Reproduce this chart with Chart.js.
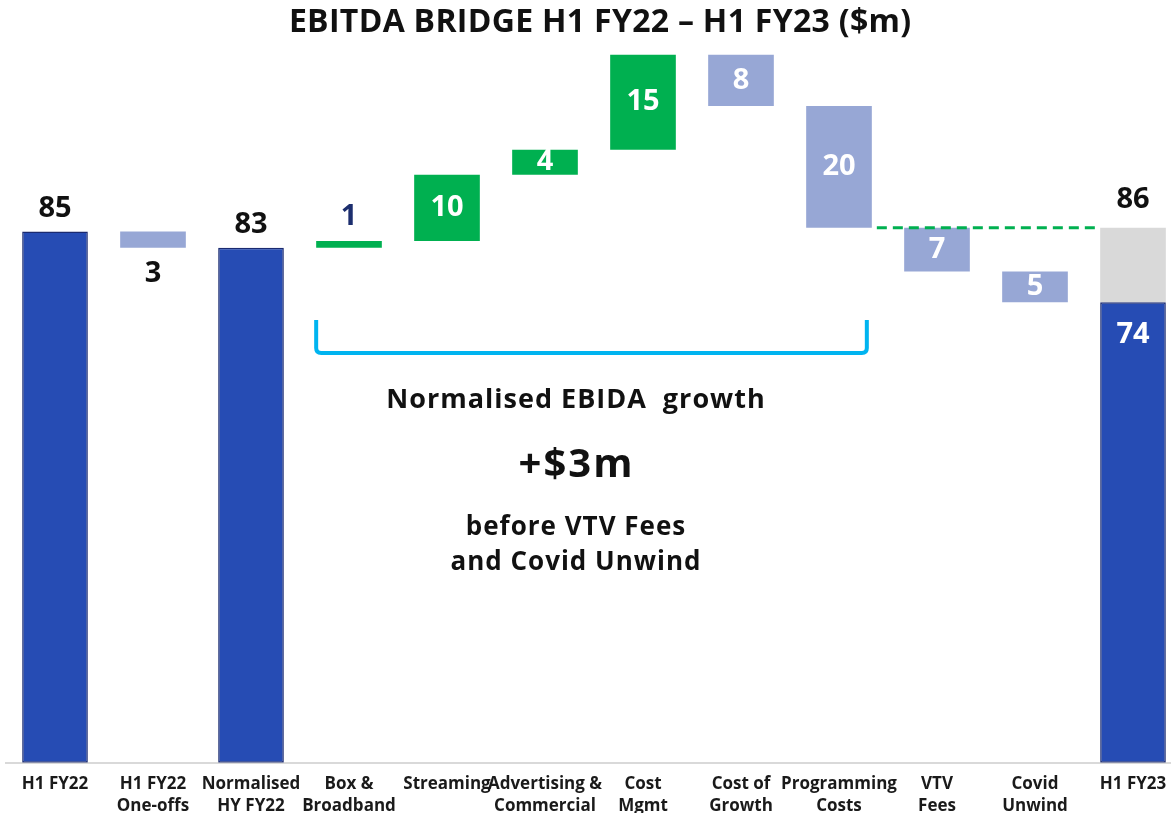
<!DOCTYPE html>
<html><head><meta charset="utf-8">
<script src="https://cdn.jsdelivr.net/npm/chart.js@4/dist/chart.umd.min.js"></script>
<style>
html,body{margin:0;padding:0;background:#fff;overflow:hidden;width:1171px;height:813px}
#wrap{position:absolute;left:0;top:0;width:1182px;height:829px}
</style></head><body>
<div id="wrap"><canvas id="c"></canvas></div>
<script>
const categories = [["H1 FY22"],["H1 FY22","One-offs"],["Normalised","HY FY22"],["Box &","Broadband"],["Streaming"],["Advertising &","Commercial"],["Cost","Mgmt"],["Cost of","Growth"],["Programming","Costs"],["VTV","Fees"],["Covid","Unwind"],["H1 FY23"]];
// 'total' entries are running totals; others are changes
const kinds   = ["total","neg","total","pos","pos","pos","pos","neg","neg","neg","neg","total"];
const changes = [85.0, -2.6, 0, 1.1, 10.6, 4.0, 15.2, -8.2, -19.5, -7.0, -4.9, 0];
const valueLabels = ["85","3","83","1","10","4","15","8","20","7","5","74"];
const normalisedTotalLabel = "86";
const titleText = "EBITDA BRIDGE H1 FY22 – H1 FY23 ($m)";

// build floating ranges
let run = 0; const ranges = [];
for (let i=0;i<changes.length;i++){
  if (kinds[i]==="total"){ if(i===0) run = changes[i]; ranges.push([0, run]); }
  else { const s=run; run += changes[i]; ranges.push([Math.min(s,run), Math.max(s,run)]); }
}
const normTop = ranges[8][0]; // level before VTV & Covid
const greyData = categories.map((c,i)=> i===categories.length-1 ? [run, normTop] : null);

const colors = kinds.map(k => k==="total" ? "#264cb4" : k==="pos" ? "#00b050" : "#97a7d5");
const borders = kinds.map(k => k==="total" ? "#1a2a70" : "rgba(0,0,0,0)");
const FONT = "'Open Sans', Lato, sans-serif";

function txt(ctx, s, x, y, font, ls){
  ctx.font = font; ctx.letterSpacing = (ls||0)+'px';
  // compensate trailing letter spacing for centring
  ctx.fillText(s, x + (ls||0)/2, y);
  ctx.letterSpacing = '0px';
}

const overlay = {
  id:'overlay',
  afterDatasetsDraw(chart){
    const ctx = chart.ctx, y = chart.scales.y;
    const meta = chart.getDatasetMeta(1);
    ctx.save();
    ctx.textAlign='center'; ctx.textBaseline='middle';
    ctx.fillStyle='#111';
    txt(ctx, titleText, 600, 23, "bold 32px "+FONT, 0.3);
    meta.data.forEach((bar,i)=>{
      const r = ranges[i];
      const top = y.getPixelForValue(r[1]), bot = y.getPixelForValue(r[0]);
      let ty, col = '#111';
      if (kinds[i]==="total"){
        if (i===categories.length-1){ ty = top+33; col='#fff'; }
        else ty = top-23;
      } else if (i===1){ ty = bot+26; }
      else if (i===3){ ty = top-24; col='#1c2e6e'; }
      else { ty = (top+bot)/2; col='#fff'; }
      ctx.fillStyle = col; txt(ctx, valueLabels[i], bar.x, ty, "bold 29px "+FONT, 0);
    });
    const last = categories.length-1;
    const gx = meta.data[last].x;
    ctx.fillStyle='#111';
    txt(ctx, normalisedTotalLabel, gx, y.getPixelForValue(normTop)-28, "bold 29px "+FONT, 0);
    // green dashed line
    const half = meta.data[8].width/2;
    ctx.strokeStyle='#00b050'; ctx.lineWidth=3; ctx.setLineDash([10,6]);
    ctx.beginPath();
    const ly = y.getPixelForValue(normTop);
    ctx.moveTo(meta.data[8].x+half+5, ly); ctx.lineTo(meta.data[last].x-half, ly); ctx.stroke();
    ctx.setLineDash([]);
    // bracket
    const bx1 = meta.data[3].x - half, bx2 = meta.data[8].x + half - 5;
    ctx.strokeStyle='#00b4f0'; ctx.lineWidth=4;
    ctx.beginPath();
    const yt=320, yb=353, rr=5;
    ctx.moveTo(bx1, yt); ctx.lineTo(bx1, yb-rr); ctx.quadraticCurveTo(bx1, yb, bx1+rr, yb);
    ctx.lineTo(bx2-rr, yb); ctx.quadraticCurveTo(bx2, yb, bx2, yb-rr); ctx.lineTo(bx2, yt);
    ctx.stroke();
    // annotation text
    const cx = (bx1+bx2)/2 - 16;
    ctx.fillStyle='#111';
    txt(ctx, "Normalised EBIDA  growth", cx, 400, "bold 27px "+FONT, 1);
    txt(ctx, "+$3m", cx, 466, "bold 40px "+FONT, 2);
    txt(ctx, "before VTV Fees", cx, 528, "bold 26px "+FONT, 1);
    txt(ctx, "and Covid Unwind", cx, 563, "bold 26px "+FONT, 1);
    ctx.restore();
  }
};

new Chart(document.getElementById('c'), {
  type:'bar',
  data:{ labels: categories, datasets:[
    { data: greyData, backgroundColor:'#d9d9d9', grouped:false, barPercentage:0.67, categoryPercentage:1, order:2 },
    { data: ranges, backgroundColor: colors, borderColor: borders, borderWidth: kinds.map(k=>k==="total"?1.5:0), borderSkipped:false, grouped:false, barPercentage:0.67, categoryPercentage:1, order:1 }
  ]},
  options:{
    responsive:true, maintainAspectRatio:false, animation:false,
    layout:{ padding:{ left:6, right:0, top:44, bottom:2 } },
    plugins:{ legend:{display:false}, tooltip:{enabled:false}, title:{display:false} },
    scales:{
      y:{ display:false, min:0, max:115 },
      x:{ grid:{ display:true, drawOnChartArea:false, drawTicks:false }, border:{ display:true, color:'#d9d9d9', width:2 },
          ticks:{ color:'#1a1a1a', font:{family:FONT, size:17, weight:'bold', lineHeight:1.3}, padding:10, maxRotation:0, autoSkip:false } }
    }
  },
  plugins:[overlay]
});
</script></body></html>
